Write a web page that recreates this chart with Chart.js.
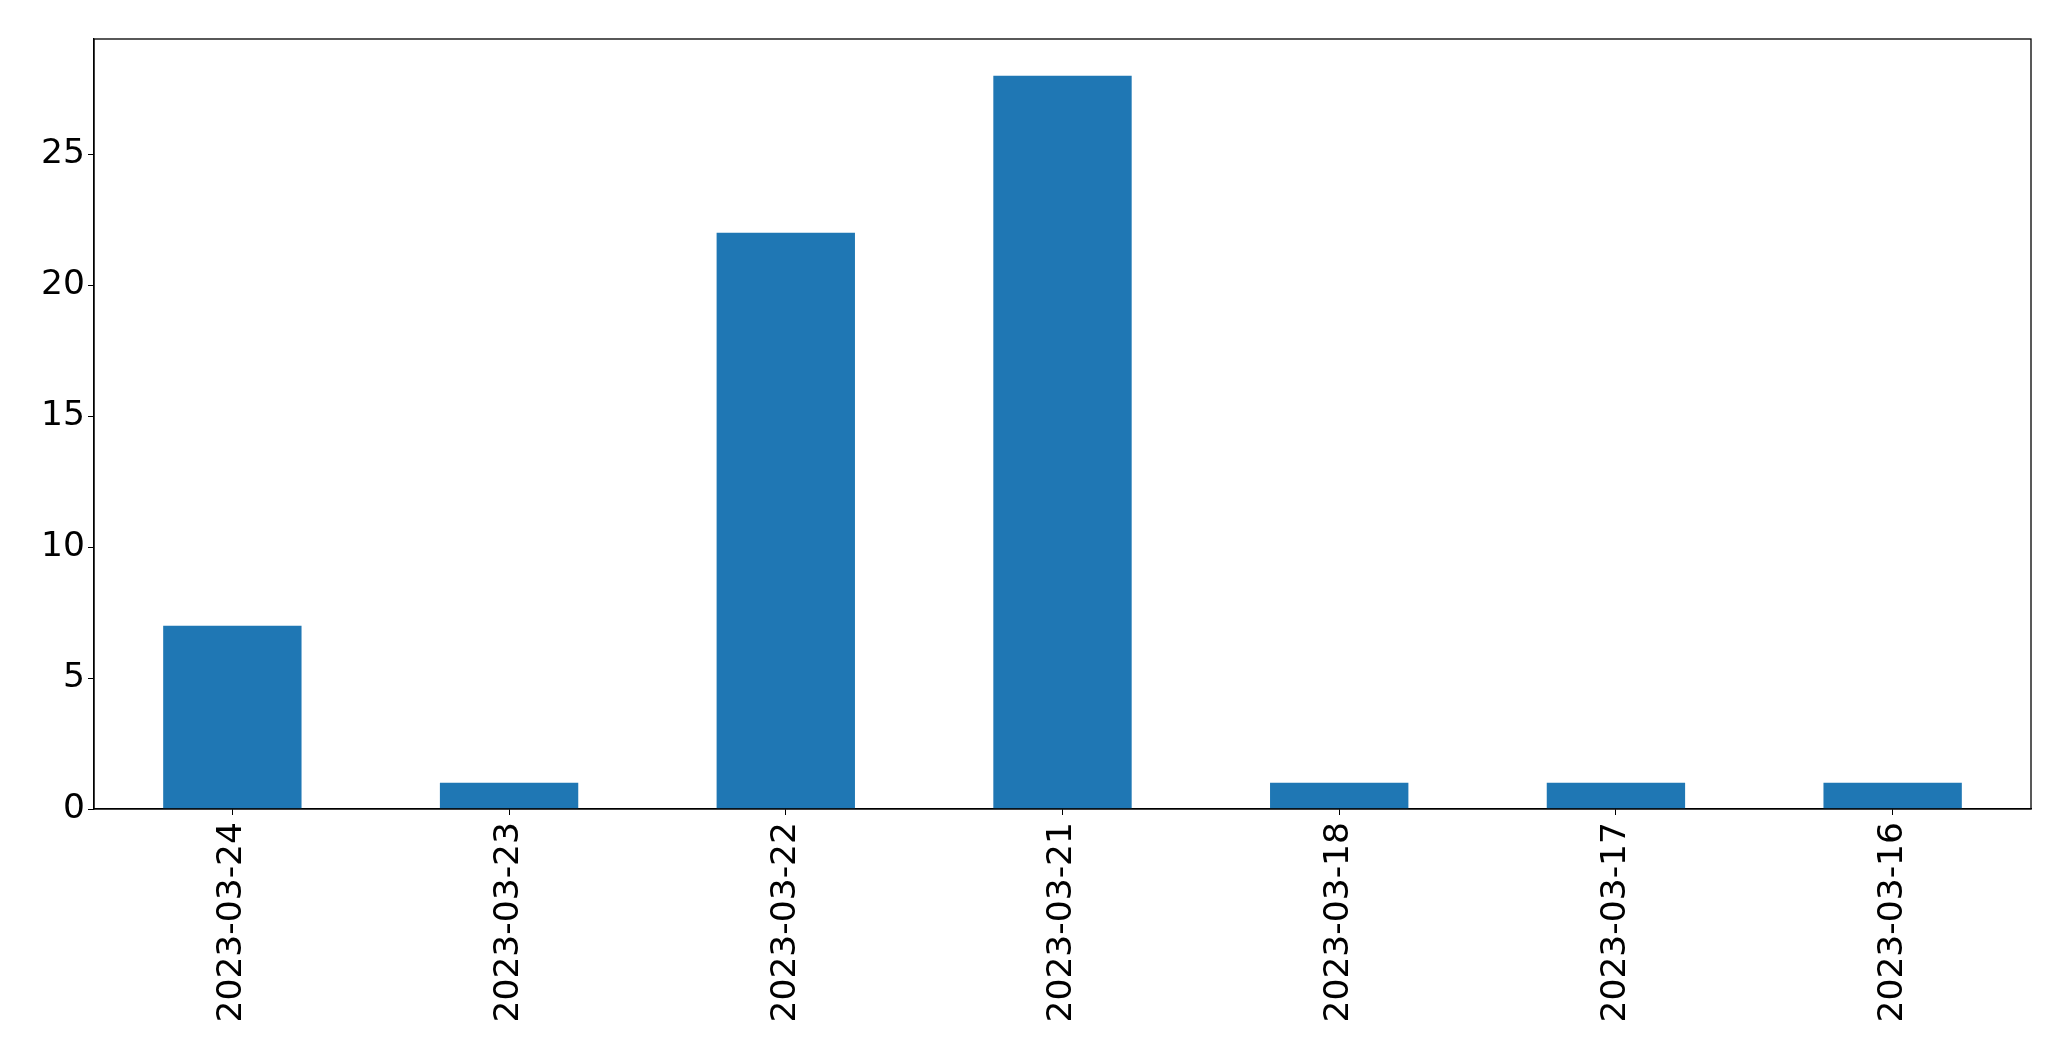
<!DOCTYPE html>
<html>
<head>
<meta charset="utf-8">
<script src="https://cdn.jsdelivr.net/npm/chart.js@4"></script>
<style>
html,body{margin:0;padding:0;background:#fff;}
canvas{display:block;}
</style>
</head>
<body>
<canvas id="c" width="2071" height="1061"></canvas>
<script>
const categories = ["2023-03-24","2023-03-23","2023-03-22","2023-03-21","2023-03-18","2023-03-17","2023-03-16"];
const counts = [7, 1, 22, 28, 1, 1, 1];
const yTickStep = 5;
const yMax = 29.4;

const frame = {
  id: 'frame',
  afterDraw(chart) {
    const a = chart.chartArea, ctx = chart.ctx;
    ctx.save();
    ctx.strokeStyle = '#000';
    ctx.lineWidth = 1.3;
    ctx.strokeRect(a.left, a.top, a.right - a.left, a.bottom - a.top);
    ctx.restore();
  }
};

new Chart(document.getElementById('c'), {
  type: 'bar',
  data: {
    labels: categories,
    datasets: [{
      data: counts,
      backgroundColor: '#1f77b4',
      borderWidth: 0,
      categoryPercentage: 1.0,
      barPercentage: 0.5
    }]
  },
  options: {
    responsive: false,
    animation: false,
    devicePixelRatio: 1,
    layout: { padding: { top: 39, right: 40, left: 0, bottom: 0 } },
    plugins: { legend: { display: false }, tooltip: { enabled: false } },
    scales: {
      x: {
        offset: true,
        grid: { display: true, drawOnChartArea: false, drawTicks: true, tickLength: 6, color: '#000', offset: false },
        border: { display: true, color: '#000', width: 1.3 },
        ticks: {
          color: '#000',
          font: { family: 'DejaVu Sans', size: 34.5 },
          minRotation: 90, maxRotation: 90,
          padding: 7,
          autoSkip: false
        },
        afterFit(s) { s.height = 252; }
      },
      y: {
        min: 0, max: yMax,
        grid: { display: true, drawOnChartArea: false, drawTicks: true, tickLength: 6, color: '#000' },
        border: { display: true, color: '#000', width: 1.3 },
        ticks: {
          color: '#000',
          font: { family: 'DejaVu Sans', size: 34.5 },
          stepSize: yTickStep,
          includeBounds: false,
          padding: 3
        },
        afterFit(s) { s.width = 94; }
      }
    }
  },
  plugins: [frame]
});
</script>
</body>
</html>
